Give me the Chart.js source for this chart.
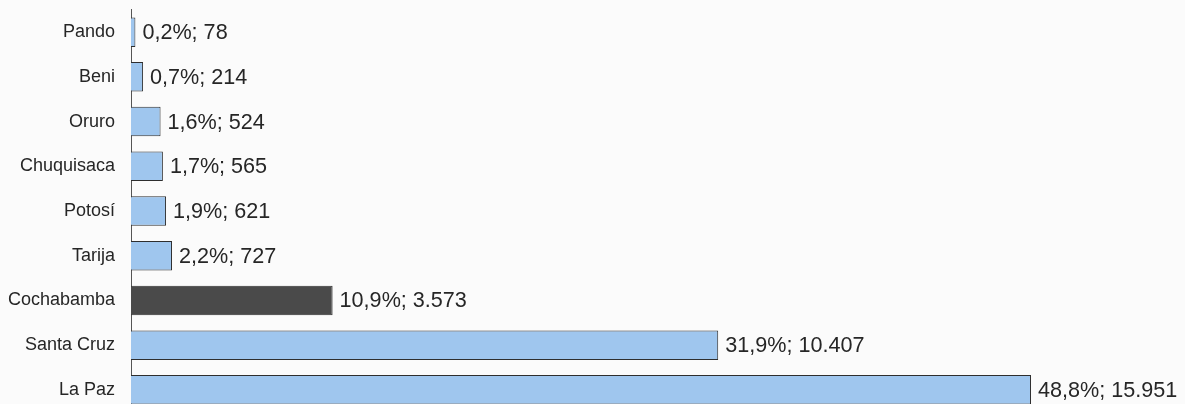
<!DOCTYPE html>
<html>
<head>
<meta charset="utf-8">
<script src="https://cdn.jsdelivr.net/npm/chart.js@4"></script>
<style>
html,body{margin:0;padding:0;background:#fbfbfb;overflow:hidden;width:1185px;height:404px;}
canvas{display:block;margin-top:-17px;}
</style>
</head>
<body>
<canvas id="c" width="1185" height="456"></canvas>
<script>
const categories = ["Pando","Beni","Oruro","Chuquisaca","Potosí","Tarija","Cochabamba","Santa Cruz","La Paz"];
const values = [78, 214, 524, 565, 621, 727, 3573, 10407, 15951];
const percents = ["0,2%","0,7%","1,6%","1,7%","1,9%","2,2%","10,9%","31,9%","48,8%"];
const highlight = "Cochabamba";

function fmt(n){ return String(n).replace(/\B(?=(\d{3})+(?!\d))/g, "."); }

const valueLabels = {
  id: 'valueLabels',
  afterDatasetsDraw(chart){
    const ctx = chart.ctx;
    const meta = chart.getDatasetMeta(0);
    ctx.save();
    ctx.font = '21.6px "Liberation Sans", Arial, sans-serif';
    ctx.fillStyle = '#262626';
    ctx.textBaseline = 'middle';
    ctx.textAlign = 'left';
    meta.data.forEach((bar, i) => {
      ctx.fillText(percents[i] + "; " + fmt(values[i]), bar.x + 7, bar.y + 1);
    });
    ctx.restore();
  }
};

new Chart(document.getElementById('c'), {
  type: 'bar',
  data: {
    labels: categories,
    datasets: [{
      data: values,
      backgroundColor: categories.map(c => c === highlight ? '#4a4a4a' : '#9fc6ee'),
      borderColor: '#2e2e2e',
      borderWidth: 1,
      barPercentage: 0.66,
      categoryPercentage: 1
    }]
  },
  options: {
    indexAxis: 'y',
    responsive: false,
    animation: false,
    layout: { padding: 0 },
    plugins: { legend: { display: false }, tooltip: { enabled: false } },
    scales: {
      x: { display: false, min: 0, max: 18680 },
      y: {
        afterFit(scale){ scale.width = 131; },
        grid: { display: false, drawTicks: false },
        border: { display: true, color: '#555555', width: 1 },
        ticks: {
          color: '#262626',
          padding: 16,
          font: { family: '"Liberation Sans", Arial, sans-serif', size: 18 }
        }
      }
    }
  },
  plugins: [valueLabels]
});
</script>
</body>
</html>
